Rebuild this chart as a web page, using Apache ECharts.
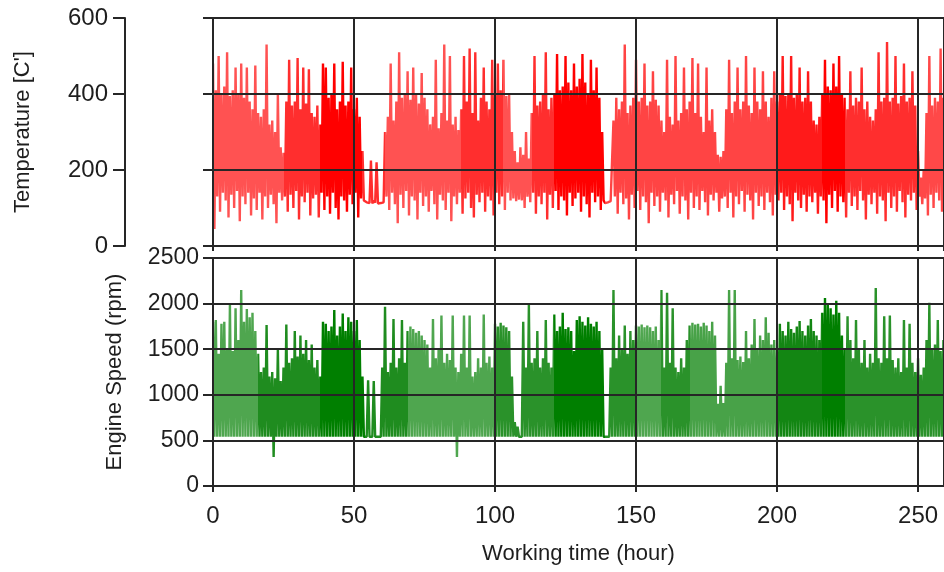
<!DOCTYPE html>
<html><head><meta charset="utf-8">
<script src="https://cdn.jsdelivr.net/npm/echarts@6/dist/echarts.min.js"></script>
<style>html,body{margin:0;padding:0;background:#fff}#c{width:944px;height:572px}</style>
</head><body><div id="c"></div>
<script>
// one max / min reading pair per working hour
const hourStep = 1;
const xMax = 259.2;
const xTickStep = 50;
const tempTicks = [0, 200, 400, 600];
const rpmTicks = [0, 500, 1000, 1500, 2000, 2500];

const tempHi = [
480,410,500,400,420,510,395,410,470,400,
480,390,470,380,360,475,350,340,360,530,
320,330,300,400,260,245,380,490,370,380,
495,360,470,375,465,350,340,370,320,480,
470,390,400,480,360,380,485,370,380,470,
360,390,340,250,115,118,225,120,220,115,
118,300,340,480,330,380,510,390,400,460,
385,470,400,375,455,390,360,320,340,490,
310,350,530,330,500,320,340,305,360,500,
380,520,350,510,330,390,470,380,360,490,
400,480,410,490,395,400,300,250,220,260,
240,300,230,350,500,370,380,400,510,360,
390,400,505,410,420,500,430,410,480,420,
440,505,430,400,490,410,470,390,300,113,
115,118,330,390,360,380,530,350,370,390,
490,380,390,480,370,380,460,385,370,330,
300,490,340,320,500,330,350,470,360,380,
495,350,480,340,300,470,330,360,300,240,
235,250,360,490,350,380,470,360,380,500,
370,350,470,380,360,460,380,340,390,460,
380,400,500,395,400,500,390,400,470,380,
390,460,380,330,320,340,400,490,420,410,
480,420,500,400,390,360,460,370,390,380,
470,360,380,340,330,360,510,380,390,537,
380,390,500,375,395,480,380,390,460,370,
250,180,200,350,500,370,390,380,520,390
];
const tempLo = [
45,130,90,140,120,75,135,100,145,65,
130,110,140,80,125,95,140,70,130,100,
135,110,60,140,120,130,90,135,100,145,
70,130,115,140,80,125,135,75,140,95,
130,85,140,100,70,130,120,90,135,110,
140,75,125,120,115,113,112,114,112,113,
115,130,95,140,110,60,135,100,145,80,
130,120,70,140,105,130,90,145,110,70,
135,120,95,140,65,130,110,140,85,125,
140,100,75,135,115,140,90,130,120,80,
140,110,130,95,140,120,125,118,122,120,
100,130,115,140,85,130,110,140,70,135,
100,145,95,130,120,80,140,105,125,140,
90,130,110,75,140,115,130,95,120,113,
112,114,130,85,140,110,125,70,135,100,
145,95,130,115,60,140,105,130,90,140,
120,75,135,110,145,85,130,120,70,140,
100,130,95,145,115,80,135,120,140,90,
125,130,100,140,75,130,110,145,90,135,
120,70,140,105,130,95,140,115,80,135,
120,140,95,130,110,65,140,120,100,135,
90,130,115,140,85,130,120,60,135,100,
145,90,130,115,75,140,105,130,95,145,
120,70,135,110,140,85,130,120,65,140,
100,130,90,145,115,75,135,120,140,95,
130,110,125,80,135,100,140,120,90,130
];
const rpmHi = [
1800,1820,1450,1780,1800,1500,1985,1480,1950,1600,
2150,1800,1940,1850,1900,1700,1450,1250,1300,1765,
1200,1250,1180,1500,1150,1300,1770,1350,1400,1700,
1420,1650,1450,1600,1380,1550,1300,1380,1200,1800,
1780,1700,1750,1930,1650,1750,1890,1700,1850,1800,
1700,1820,1600,1200,540,1160,540,1150,540,540,
1300,1965,1250,1350,1830,1300,1400,1820,1350,1700,
1750,1720,1680,1700,1650,1600,1550,1300,1830,1400,
1500,1870,1350,1450,1380,1870,1300,1250,1450,1870,
1300,1870,1200,1250,1400,1300,1880,1350,1420,1300,
1780,1750,1790,1760,1740,1700,1200,700,650,540,
1800,1300,1985,1350,1400,1700,1300,1400,1820,1350,
1300,1880,1700,1750,1900,1720,1740,1700,1480,1820,
1860,1800,1760,1850,1780,1750,1800,1700,1500,540,
540,1300,2150,1400,1650,1500,1760,1450,1700,1600,
1760,1750,1770,1740,1760,1740,1700,1750,1600,2150,
1300,2120,1350,1950,1300,1250,1400,1300,1600,1760,
1790,1770,1780,1750,1790,1760,1700,1800,1650,900,
1100,910,1350,2150,1400,2150,1380,1420,1360,1700,
1400,1550,1830,1500,1650,1600,1850,1680,1550,1600,
1500,1780,1700,1650,1800,1720,1680,1750,1810,1700,
1650,1760,1830,1700,1650,1600,1900,2060,2000,1950,
1880,2030,1900,1650,1500,1860,1600,1400,1820,1500,
1350,1600,1300,1450,1350,2170,1400,1350,1860,1400,
1870,1380,1300,1400,1250,1820,1300,1780,1350,1250,
1400,1220,1300,1600,2010,1500,1550,1820,1480,1600
];
const rpmIdle = 540;
const rpmDips = {21: 318, 86: 318};

// shading of the traces per time span (style only)
const tempShades = [[0,25,'#ff5252'],[25,38,'#ff2e2e'],[38,53,'#ff0000'],[53,61,'#ff2e2e'],[61,88,'#ff5252'],[88,103,'#ff2e2e'],[103,113,'#ff5252'],[113,121,'#ff2e2e'],[121,139,'#ff0000'],[139,200,'#ff4444'],[200,216,'#ff1a1a'],[216,224,'#ff0000'],[224,250,'#ff2e2e'],[250,270,'#ff4848']];
const rpmShades = [[0,16,'#4fa64f'],[16,38,'#1f8c1f'],[38,54,'#007f00'],[54,69,'#1f8c1f'],[69,100,'#4fa64f'],[100,121,'#2a922a'],[121,139,'#007f00'],[139,150,'#2a922a'],[150,159,'#4fa64f'],[159,169,'#2a922a'],[169,200,'#48a248'],[200,216,'#138613'],[216,224,'#007f00'],[224,270,'#2a922a']];

function zig(hi, lo) {
  const out = [];
  for (let i = 0; i < hi.length; i++) {
    out.push([i * hourStep, hi[i]]);
    out.push([i * hourStep + hourStep / 2, lo[i]]);
  }
  return out;
}
const rpmLo = rpmHi.map((_, i) => (rpmDips[i] !== undefined ? rpmDips[i] : rpmIdle));

const AX = '#262626';
const TXT = '#1e1e1e';
const FONT = 'Liberation Sans';
const lineSt = {color: AX, width: 2};
const plain = v => String(v);

const chart = echarts.init(document.getElementById('c'), null, {renderer: 'canvas'});
chart.setOption({
  animation: false,
  backgroundColor: '#fff',
  textStyle: {fontFamily: FONT},
  grid: [
    {left: 213, right: 0, top: 18, height: 228},
    {left: 213, right: 0, top: 258, height: 228}
  ],
  xAxis: [
    {gridIndex: 0, type: 'value', min: 0, max: xMax, interval: xTickStep, z: 5,
     axisLine: {show: true, onZero: false, lineStyle: lineSt},
     axisTick: {show: true, length: 5, lineStyle: lineSt},
     axisLabel: {show: false},
     splitLine: {show: true, lineStyle: lineSt}},
    {gridIndex: 1, type: 'value', min: 0, max: xMax, interval: xTickStep, z: 5,
     axisLine: {show: true, onZero: false, lineStyle: lineSt},
     axisTick: {show: true, length: 6, lineStyle: lineSt},
     axisLabel: {show: true, fontSize: 24, color: TXT, margin: 18, fontFamily: FONT, showMaxLabel: false, formatter: plain},
     splitLine: {show: true, lineStyle: lineSt},
     name: 'Working time (hour)', nameLocation: 'middle', nameGap: 57,
     nameTextStyle: {fontSize: 22, color: TXT, fontFamily: FONT}}
  ],
  yAxis: [
    {gridIndex: 0, type: 'value', min: tempTicks[0], max: tempTicks[tempTicks.length-1], interval: tempTicks[1]-tempTicks[0], position: 'left', z: 5,
     axisLine: {show: true, onZero: false, lineStyle: lineSt},
     axisTick: {show: true, length: 10, lineStyle: lineSt},
     axisLabel: {show: false},
     splitLine: {show: true, lineStyle: lineSt}},
    {gridIndex: 0, type: 'value', min: tempTicks[0], max: tempTicks[tempTicks.length-1], interval: tempTicks[1]-tempTicks[0], position: 'left', offset: 88, z: 5,
     axisLine: {show: true, onZero: false, lineStyle: lineSt},
     axisTick: {show: true, length: 12, lineStyle: lineSt},
     axisLabel: {show: true, fontSize: 24, color: TXT, margin: 17, fontFamily: FONT, formatter: plain},
     splitLine: {show: false},
     name: "Temperature [C']", nameLocation: 'middle', nameRotate: 90, nameGap: 91,
     nameTextStyle: {fontSize: 22, color: TXT, fontFamily: FONT}},
    {gridIndex: 1, type: 'value', min: rpmTicks[0], max: rpmTicks[rpmTicks.length-1], interval: rpmTicks[1]-rpmTicks[0], position: 'left', z: 5,
     axisLine: {show: true, onZero: false, lineStyle: lineSt},
     axisTick: {show: true, length: 10, lineStyle: lineSt},
     axisLabel: {show: true, fontSize: 23, color: TXT, margin: 14, fontFamily: FONT, formatter: plain},
     splitLine: {show: true, lineStyle: lineSt},
     name: 'Engine Speed (rpm)', nameLocation: 'middle', nameRotate: 90, nameGap: 87,
     nameTextStyle: {fontSize: 22, color: TXT, fontFamily: FONT}}
  ],
  visualMap: [
    {type: 'piecewise', show: false, dimension: 0, seriesIndex: 0,
     pieces: tempShades.map(s => ({gte: s[0], lt: s[1], color: s[2]}))},
    {type: 'piecewise', show: false, dimension: 0, seriesIndex: 1,
     pieces: rpmShades.map(s => ({gte: s[0], lt: s[1], color: s[2]}))}
  ],
  series: [
    {type: 'line', xAxisIndex: 0, yAxisIndex: 0, data: zig(tempHi, tempLo),
     showSymbol: false, symbol: 'none', silent: true, z: 2,
     lineStyle: {width: 2.4, join: 'bevel'}},
    {type: 'line', xAxisIndex: 1, yAxisIndex: 2, data: zig(rpmHi, rpmLo),
     showSymbol: false, symbol: 'none', silent: true, z: 2,
     lineStyle: {width: 2.4, join: 'bevel'}}
  ]
});
</script></body></html>
